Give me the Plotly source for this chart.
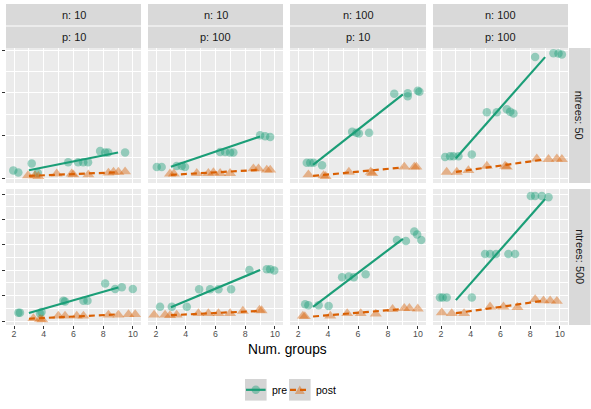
import numpy as np
import plotly.graph_objects as go

# ---------------- data ----------------
# x = Num. groups (jittered position as drawn), y = value (unlabelled axis units)
# ntrees 50
pre_x_t50_n10_p10 = [1.95, 2.29, 3.19, 3.6, 5.64, 6.31, 6.65, 6.98, 7.79, 8.13, 8.33, 9.47]
pre_y_t50_n10_p10 = [0.19, 0.14, 0.35, 0.13, 0.38, 0.38, 0.38, 0.38, 0.64, 0.61, 0.61, 0.61]
post_x_t50_n10_p10 = [2.94, 3.41, 3.64, 4.87, 5.88, 5.99, 7.0, 8.35, 8.69, 9.02, 9.47]
post_y_t50_n10_p10 = [0.07, 0.07, 0.05, 0.11, 0.11, 0.09, 0.09, 0.13, 0.15, 0.15, 0.16]

pre_x_t50_n10_p100 = [2.05, 2.38, 3.39, 3.73, 3.95, 6.31, 6.65, 6.98, 7.2, 9.0, 9.34, 9.68]
pre_y_t50_n10_p100 = [0.27, 0.27, 0.29, 0.29, 0.27, 0.62, 0.62, 0.61, 0.61, 1.01, 0.99, 0.97]
post_x_t50_n10_p100 = [2.94, 3.2, 4.74, 5.52, 5.86, 6.31, 6.98, 8.55, 8.89, 9.45, 9.68]
post_y_t50_n10_p100 = [0.11, 0.11, 0.12, 0.12, 0.14, 0.12, 0.12, 0.23, 0.23, 0.2, 0.2]

pre_x_t50_n100_p10 = [2.58, 2.81, 3.03, 3.6, 5.61, 5.9, 6.06, 6.74, 8.42, 9.32, 9.32, 9.99, 10.1]
pre_y_t50_n100_p10 = [0.37, 0.37, 0.37, 0.31, 1.09, 1.07, 1.05, 1.07, 1.98, 1.99, 1.92, 2.05, 2.03]
post_x_t50_n100_p10 = [2.69, 3.7, 3.84, 5.39, 6.85, 6.95, 9.09, 9.76, 9.9]
post_y_t50_n100_p10 = [0.09, 0.07, 0.05, 0.15, 0.15, 0.12, 0.27, 0.27, 0.27]

pre_x_t50_n100_p100 = [2.27, 2.61, 2.83, 3.17, 4.07, 5.08, 5.75, 6.42, 6.65, 6.87, 8.33, 9.56, 9.9, 10.13]
pre_y_t50_n100_p100 = [0.5, 0.52, 0.52, 0.52, 0.56, 1.55, 1.55, 1.62, 1.56, 1.52, 2.84, 2.93, 2.92, 2.9]
post_x_t50_n100_p100 = [2.38, 3.06, 3.84, 5.08, 6.31, 6.42, 8.44, 9.23, 9.79, 10.13]
post_y_t50_n100_p100 = [0.15, 0.15, 0.19, 0.29, 0.29, 0.27, 0.46, 0.45, 0.46, 0.45]

# ntrees 500
pre_x_t500_n10_p10 = [2.29, 2.4, 3.75, 3.85, 5.32, 5.43, 6.67, 6.94, 8.13, 8.8, 9.25, 9.99]
pre_y_t500_n10_p10 = [0.33, 0.33, 0.3, 0.35, 0.8, 0.77, 0.8, 0.8, 1.48, 1.26, 1.33, 1.26]
post_x_t500_n10_p10 = [3.3, 3.75, 3.9, 4.98, 5.43, 6.22, 6.67, 8.35, 9.02, 9.7, 10.15]
post_y_t500_n10_p10 = [0.1, 0.07, 0.05, 0.2, 0.2, 0.2, 0.2, 0.24, 0.24, 0.26, 0.26]

pre_x_t500_n10_p100 = [2.27, 3.06, 4.07, 4.9, 5.64, 6.2, 7.05, 8.28, 9.45, 9.68, 9.95]
pre_y_t500_n10_p100 = [0.56, 0.56, 0.56, 1.25, 1.25, 1.25, 1.25, 2.01, 2.04, 2.04, 1.99]
post_x_t500_n10_p100 = [1.87, 2.61, 2.94, 3.39, 4.85, 5.52, 6.2, 6.98, 7.84, 8.96, 9.1]
post_y_t500_n10_p100 = [0.24, 0.24, 0.22, 0.24, 0.3, 0.3, 0.3, 0.3, 0.39, 0.43, 0.41]

pre_x_t500_n100_p10 = [2.47, 2.69, 3.37, 4.04, 4.94, 5.39, 5.72, 6.51, 8.6, 9.2, 9.76, 9.95, 10.22]
pre_y_t500_n100_p10 = [0.66, 0.62, 0.62, 0.59, 1.72, 1.75, 1.72, 1.84, 3.19, 3.15, 3.52, 3.41, 3.19]
post_x_t500_n100_p10 = [2.32, 2.45, 4.15, 5.28, 6.18, 7.19, 8.31, 9.09, 9.43, 9.99]
post_y_t500_n100_p10 = [0.2, 0.18, 0.2, 0.3, 0.3, 0.28, 0.46, 0.5, 0.5, 0.48]

pre_x_t500_n100_p100 = [1.93, 2.11, 2.38, 4.07, 4.96, 5.3, 5.7, 6.53, 6.98, 8.04, 8.33, 8.78, 9.23]
pre_y_t500_n100_p100 = [0.93, 0.93, 0.93, 0.93, 2.64, 2.64, 2.64, 2.64, 2.64, 4.92, 4.92, 4.92, 4.87]
post_x_t500_n100_p100 = [2.05, 2.72, 3.55, 5.3, 6.2, 7.14, 8.33, 8.89, 9.34, 9.79]
post_y_t500_n100_p100 = [0.33, 0.3, 0.3, 0.56, 0.56, 0.54, 0.85, 0.8, 0.8, 0.78]

group_levels = [3, 6, 9]
col_n_labels = ["n: 10", "n: 10", "n: 100", "n: 100"]
col_p_labels = ["p: 10", "p: 100", "p: 10", "p: 100"]
row_labels = ["ntrees: 50", "ntrees: 500"]
x_tick_vals = [2, 4, 6, 8, 10]
series_names = ["pre", "post"]

panels = [
    (pre_x_t50_n10_p10, pre_y_t50_n10_p10, post_x_t50_n10_p10, post_y_t50_n10_p10),
    (pre_x_t50_n10_p100, pre_y_t50_n10_p100, post_x_t50_n10_p100, post_y_t50_n10_p100),
    (pre_x_t50_n100_p10, pre_y_t50_n100_p10, post_x_t50_n100_p10, post_y_t50_n100_p10),
    (pre_x_t50_n100_p100, pre_y_t50_n100_p100, post_x_t50_n100_p100, post_y_t50_n100_p100),
    (pre_x_t500_n10_p10, pre_y_t500_n10_p10, post_x_t500_n10_p10, post_y_t500_n10_p10),
    (pre_x_t500_n10_p100, pre_y_t500_n10_p100, post_x_t500_n10_p100, post_y_t500_n10_p100),
    (pre_x_t500_n100_p10, pre_y_t500_n100_p10, post_x_t500_n100_p10, post_y_t500_n100_p10),
    (pre_x_t500_n100_p100, pre_y_t500_n100_p100, post_x_t500_n100_p100, post_y_t500_n100_p100),
]

# ---------------- layout geometry ----------------
W, H = 591, 409
def fx(px):
    return px / W
def fy(py):
    return 1 - py / H

col_lr = [(6, 141), (148, 283), (290, 426), (433, 568)]
row_tb = [(48, 183), (189, 325)]
y_ranges = [[-0.105, 3.05], [-0.157, 5.197]]
y_major = [[0, 1, 2, 3], [0, 1, 2, 3, 4, 5]]
y_minor = [[0.5, 1.5, 2.5], [0.5, 1.5, 2.5, 3.5, 4.5]]

GREEN = "#1B9E77"
ORANGE = "#D95F02"
GREEN_A = "rgba(27,158,119,0.42)"
ORANGE_A = "rgba(217,95,2,0.42)"
FONT = "Liberation Sans, Arial, sans-serif"

fig = go.Figure()
layout = {}

def lm_line(xj, y):
    xj = np.asarray(xj, float)
    g = 3 * np.round(xj / 3)
    b, a = np.polyfit(g, np.asarray(y, float), 1)
    xs = np.array([min(group_levels), max(group_levels)], float)
    return xs, a + b * xs

for k, (prx, pry, pox, poy) in enumerate(panels):
    r, c = divmod(k, 4)
    sfx = "" if k == 0 else str(k + 1)
    xa, ya = "x" + sfx, "y" + sfx
    l, rr = col_lr[c]
    t, b = row_tb[r]
    layout["xaxis" + sfx] = dict(
        domain=[fx(l), fx(rr)], anchor=ya, range=[1.46, 10.54],
        tickmode="array", tickvals=x_tick_vals,
        showgrid=True, gridcolor="white", gridwidth=1.1,
        minor=dict(tickvals=[3, 5, 7, 9], showgrid=True, gridcolor="white", gridwidth=0.55),
        zeroline=False, showline=False,
        showticklabels=(r == 1), ticks="outside" if r == 1 else "",
        ticklen=3, tickwidth=1, tickcolor="#333333", ticklabelstandoff=-3,
        tickfont=dict(size=8.8, color="#4D4D4D", family=FONT),
        fixedrange=True,
    )
    layout["yaxis" + sfx] = dict(
        domain=[fy(b), fy(t)], anchor=xa, range=y_ranges[r],
        tickmode="array", tickvals=y_major[r],
        showgrid=True, gridcolor="white", gridwidth=1.1,
        minor=dict(tickvals=y_minor[r], showgrid=True, gridcolor="white", gridwidth=0.55),
        zeroline=False, showline=False, showticklabels=False,
        ticks="outside" if c == 0 else "", ticklen=3, tickwidth=1, tickcolor="#333333",
        fixedrange=True,
    )
    fig.add_trace(go.Scatter(x=prx, y=pry, mode="markers", xaxis=xa, yaxis=ya,
                             marker=dict(symbol="circle", size=8.5, color=GREEN_A, line=dict(width=0)),
                             showlegend=False, hoverinfo="skip"))
    fig.add_trace(go.Scatter(x=pox, y=poy, mode="markers", xaxis=xa, yaxis=ya,
                             marker=dict(symbol="triangle-up", size=10.5, color=ORANGE_A, line=dict(width=0)),
                             showlegend=False, hoverinfo="skip"))
    lx, ly = lm_line(prx, pry)
    fig.add_trace(go.Scatter(x=lx, y=ly, mode="lines", xaxis=xa, yaxis=ya,
                             line=dict(color=GREEN, width=2.2), showlegend=False, hoverinfo="skip"))
    lx, ly = lm_line(pox, poy)
    fig.add_trace(go.Scatter(x=lx, y=ly, mode="lines", xaxis=xa, yaxis=ya,
                             line=dict(color=ORANGE, width=2.2, dash="6px,4px"), showlegend=False, hoverinfo="skip"))

shapes = []
annotations = []
STRIP = "#D9D9D9"
# top strips
for c, (l, rr) in enumerate(col_lr):
    shapes.append(dict(type="rect", xref="paper", yref="paper", x0=fx(l), x1=fx(rr),
                       y0=fy(25.6), y1=fy(4), fillcolor=STRIP, line=dict(width=0), layer="below"))
    shapes.append(dict(type="rect", xref="paper", yref="paper", x0=fx(l), x1=fx(rr),
                       y0=fy(48), y1=fy(26.4), fillcolor=STRIP, line=dict(width=0), layer="below"))
    annotations.append(dict(text=col_n_labels[c], xref="paper", yref="paper", x=fx((l + rr) / 2), y=fy(14.8),
                            showarrow=False, xanchor="center", yanchor="middle",
                            font=dict(size=11, color="#1A1A1A", family=FONT)))
    annotations.append(dict(text=col_p_labels[c], xref="paper", yref="paper", x=fx((l + rr) / 2), y=fy(37.0),
                            showarrow=False, xanchor="center", yanchor="middle",
                            font=dict(size=11, color="#1A1A1A", family=FONT)))
# right strips
for r, (t, b) in enumerate(row_tb):
    shapes.append(dict(type="rect", xref="paper", yref="paper", x0=fx(569), x1=fx(590.5),
                       y0=fy(b), y1=fy(t), fillcolor=STRIP, line=dict(width=0), layer="below"))
    annotations.append(dict(text=row_labels[r], xref="paper", yref="paper", x=fx(579.8), y=fy((t + b) / 2),
                            showarrow=False, xanchor="center", yanchor="middle", textangle=90,
                            font=dict(size=11, color="#1A1A1A", family=FONT)))

# x axis title
annotations.append(dict(text="Num. groups", xref="paper", yref="paper", x=fx(287), y=fy(349.5),
                        showarrow=False, xanchor="center", yanchor="middle",
                        font=dict(size=13.75, color="black", family=FONT)))

# legend (manual, ggplot style keys)
key_w = 21.6
key_y0, key_y1 = 379, 400.6
cy = (key_y0 + key_y1) / 2
key_lefts = [245, 289]
for i, kl in enumerate(key_lefts):
    shapes.append(dict(type="rect", xref="paper", yref="paper", x0=fx(kl), x1=fx(kl + key_w),
                       y0=fy(key_y1), y1=fy(key_y0), fillcolor="#D4D4D4", line=dict(width=0)))
    cx = kl + key_w / 2
    if i == 0:
        shapes.append(dict(type="circle", xref="paper", yref="paper", x0=fx(cx - 4.25), x1=fx(cx + 4.25),
                           y0=fy(cy + 4.25), y1=fy(cy - 4.25), fillcolor=GREEN_A, line=dict(width=0)))
        shapes.append(dict(type="line", xref="paper", yref="paper", x0=fx(kl + 1), x1=fx(kl + key_w - 1),
                           y0=fy(cy), y1=fy(cy), line=dict(color=GREEN, width=2.2)))
    else:
        hw, hh = 5.0, 4.3
        path = "M {:.5f} {:.5f} L {:.5f} {:.5f} L {:.5f} {:.5f} Z".format(
            fx(cx - hw), fy(cy + hh), fx(cx + hw), fy(cy + hh), fx(cx), fy(cy - hh))
        shapes.append(dict(type="path", xref="paper", yref="paper", path=path,
                           fillcolor=ORANGE_A, line=dict(width=0)))
        shapes.append(dict(type="line", xref="paper", yref="paper", x0=fx(kl + 1), x1=fx(kl + key_w - 1),
                           y0=fy(cy), y1=fy(cy), line=dict(color=ORANGE, width=2.2, dash="6px,4px")))
    annotations.append(dict(text=series_names[i], xref="paper", yref="paper", x=fx(kl + key_w + 3.0), y=fy(cy),
                            showarrow=False, xanchor="left", yanchor="middle",
                            font=dict(size=10.5, color="black", family=FONT)))

fig.update_layout(
    width=W, height=H, margin=dict(l=0, r=0, t=0, b=0),
    paper_bgcolor="white", plot_bgcolor="#EBEBEB",
    showlegend=False, shapes=shapes, annotations=annotations,
    font=dict(family=FONT), **layout,
)

fig.write_html("out.html")
